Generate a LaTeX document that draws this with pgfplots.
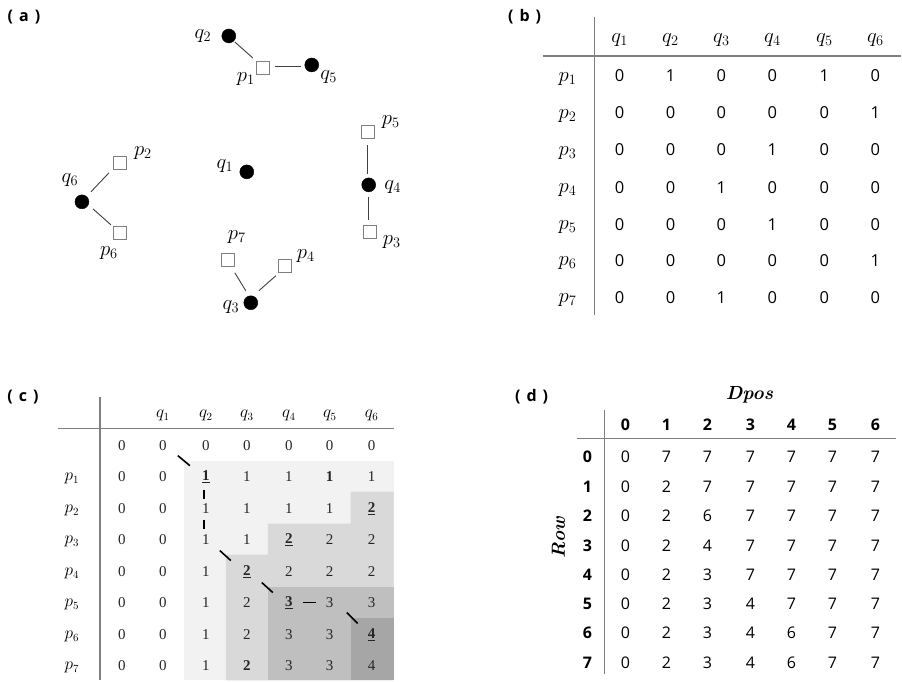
\documentclass[border=0pt]{standalone}
\usepackage{pgfplots}
\usepackage{pgfplotstable}
\pgfplotsset{compat=1.18}
\usepackage{fontspec}
\setsansfont{Open Sans}
\newfontfamily\cserif{Liberation Serif}
\definecolor{g1}{HTML}{F2F2F2}
\definecolor{g2}{HTML}{D9D9D9}
\definecolor{g3}{HTML}{BFBFBF}
\definecolor{g4}{HTML}{A6A6A6}
\definecolor{rulec}{HTML}{7F7F7F}
\definecolor{linec}{HTML}{404040}
\DeclareRobustCommand\U[1]{\underline{\textbf{#1}}}
\DeclareRobustCommand\B[1]{\textbf{#1}}
\pgfplotsset{
  lbl/.style={only marks, mark=none, nodes near coords, point meta=explicit symbolic,
    every node near coord/.append style={anchor=center, inner sep=0pt, text=black, #1}},
  seg/.style={draw=linec, line width=0.9pt, mark=none},
  rl/.style={draw=rulec, line width=1.4pt, mark=none},
  tb/.style={draw=black, line width=1.6pt, mark=none},
}
% panel (b) matrix
\pgfplotstableread{
y c1 c2 c3 c4 c5 c6
76  0 1 0 0 1 0
113 0 0 0 0 0 1
150 0 0 0 1 0 0
188 0 0 1 0 0 0
225 0 0 0 1 0 0
261 0 0 0 0 0 1
298 0 0 1 0 0 0
}\tabB
% panel (c) matrix
\pgfplotstableread{
y c0 c1 c2 c3 c4 c5 c6
446 0 0 0 0 0 0 0
477 0 0 \U{1} 1 1 \B{1} 1
509 0 0 1 1 1 1 \U{2}
540 0 0 1 1 \U{2} 2 2
572 0 0 1 \U{2} 2 2 2
603 0 0 1 2 \U{3} 3 3
635 0 0 1 2 3 3 \U{4}
666 0 0 1 \B{2} 3 3 4
}\tabC
% panel (d) matrix
\pgfplotstableread{
y c0 c1 c2 c3 c4 c5 c6
457 0 7 7 7 7 7 7
487 0 2 7 7 7 7 7
516 0 2 6 7 7 7 7
546 0 2 4 7 7 7 7
575 0 2 3 7 7 7 7
604 0 2 3 4 7 7 7
633 0 2 3 4 6 7 7
663 0 2 3 4 6 7 7
}\tabD
\begin{document}
\begin{tikzpicture}
\begin{axis}[scale only axis, width=902pt, height=681pt,
  xmin=0, xmax=902, ymin=0, ymax=681, y dir=reverse,
  hide axis, clip=false]
\addplot[draw=none, mark=none] coordinates {(0,0) (902,681)};
% ---------- panel labels
\addplot[lbl={font=\sffamily\bfseries\fontsize{16}{16}\selectfont}] table[meta=t] {
x y t
24 17 (\hspace{6pt}a\hspace{6pt})
525 17 (\hspace{6pt}b\hspace{6pt})
23 397 (\hspace{6pt}c\hspace{6pt})
532 397 (\hspace{6pt}d\hspace{6pt})
};
% ---------- panel (a)
\addplot[seg] coordinates {(235,42) (253,58)};
\addplot[seg] coordinates {(275,67) (301,67)};
\addplot[seg] coordinates {(368,145) (368,174)};
\addplot[seg] coordinates {(369,197) (369,220)};
\addplot[seg] coordinates {(91,192) (109,173)};
\addplot[seg] coordinates {(93,209) (111,225)};
\addplot[seg] coordinates {(235,273) (246,291)};
\addplot[seg] coordinates {(259,291) (276,276)};
\addplot[only marks, mark=*, mark size=7pt, mark options={fill=black, draw=black}] table {
x y
229 36
312 65
369 185
82 202
247 172
251 303
};
\addplot[only marks, mark=square*, mark size=6.5pt, mark options={fill=white, draw=rulec, line width=1.2pt}] table {
x y
263 68
368 132
370 232
120 163
120 233
228 260
285 266
};
\addplot[lbl={font=\fontsize{21}{21}\selectfont}] table[meta=t] {
x y t
203 36 $q_2$
246 79 $p_1$
329 77 $q_5$
391 122 $p_5$
393 187 $q_4$
392 242 $p_3$
143 153 $p_2$
70 180 $q_6$
109 253 $p_6$
225 166 $q_1$
237 237 $p_7$
306 256 $p_4$
231 307 $q_3$
};
% ---------- panel (b)
\addplot[rl] coordinates {(595,17) (595,315)};
\addplot[rl] coordinates {(543,56) (902,56)};
\addplot[lbl={font=\fontsize{22}{22}\selectfont}] table[meta=t] {
x y t
620 40 $q_1$
671 40 $q_2$
722 40 $q_3$
773 40 $q_4$
825 40 $q_5$
876 40 $q_6$
568 79 $p_1$
568 116 $p_2$
568 153 $p_3$
568 190 $p_4$
568 227 $p_5$
568 263 $p_6$
568 300 $p_7$
};
\addplot[lbl={font=\sffamily\fontsize{16.5}{16.5}\selectfont}] table[x expr=620, y=y, meta=c1] {\tabB};
\addplot[lbl={font=\sffamily\fontsize{16.5}{16.5}\selectfont}] table[x expr=671, y=y, meta=c2] {\tabB};
\addplot[lbl={font=\sffamily\fontsize{16.5}{16.5}\selectfont}] table[x expr=722, y=y, meta=c3] {\tabB};
\addplot[lbl={font=\sffamily\fontsize{16.5}{16.5}\selectfont}] table[x expr=773, y=y, meta=c4] {\tabB};
\addplot[lbl={font=\sffamily\fontsize{16.5}{16.5}\selectfont}] table[x expr=825, y=y, meta=c5] {\tabB};
\addplot[lbl={font=\sffamily\fontsize{16.5}{16.5}\selectfont}] table[x expr=876, y=y, meta=c6] {\tabB};
% ---------- panel (c)
\addplot[fill=g1, draw=none, mark=none] coordinates {(184,461) (394,461) (394,681) (184,681)};
\addplot[fill=g2, draw=none, mark=none] coordinates {(351,492) (394,492) (394,681) (226,681) (226,555) (268,555) (268,524) (351,524)};
\addplot[fill=g3, draw=none, mark=none] coordinates {(268,587) (394,587) (394,681) (268,681)};
\addplot[fill=g4, draw=none, mark=none] coordinates {(351,618) (394,618) (394,681) (351,681)};
\addplot[rl] coordinates {(100,397) (100,681)};
\addplot[rl] coordinates {(58,429) (394,429)};
\addplot[tb] coordinates {(178,456) (190,466)};
\addplot[tb] coordinates {(204,490) (204,499)};
\addplot[tb] coordinates {(204,520) (204,529)};
\addplot[tb] coordinates {(220,551) (231,561)};
\addplot[tb] coordinates {(262,583) (273,593)};
\addplot[tb] coordinates {(303,603) (316,603)};
\addplot[tb] coordinates {(347,613) (358,624)};
\addplot[lbl={font=\fontsize{16}{16}\selectfont}] table[meta=t] {
x y t
163 416 $q_1$
206 416 $q_2$
247 416 $q_3$
289 416 $q_4$
330 416 $q_5$
372 416 $q_6$
72 479 $p_1$
72 511 $p_2$
72 542 $p_3$
72 574 $p_4$
72 605 $p_5$
72 637 $p_6$
72 668 $p_7$
};
\addplot[lbl={font=\cserif\fontsize{15}{15}\selectfont, text=black!85}] table[x expr=122, y=y, meta=c0] {\tabC};
\addplot[lbl={font=\cserif\fontsize{15}{15}\selectfont, text=black!85}] table[x expr=163, y=y, meta=c1] {\tabC};
\addplot[lbl={font=\cserif\fontsize{15}{15}\selectfont, text=black!85}] table[x expr=206, y=y, meta=c2] {\tabC};
\addplot[lbl={font=\cserif\fontsize{15}{15}\selectfont, text=black!85}] table[x expr=247, y=y, meta=c3] {\tabC};
\addplot[lbl={font=\cserif\fontsize{15}{15}\selectfont, text=black!85}] table[x expr=289, y=y, meta=c4] {\tabC};
\addplot[lbl={font=\cserif\fontsize{15}{15}\selectfont, text=black!85}] table[x expr=330, y=y, meta=c5] {\tabC};
\addplot[lbl={font=\cserif\fontsize{15}{15}\selectfont, text=black!85}] table[x expr=372, y=y, meta=c6] {\tabC};
% ---------- panel (d)
\addplot[rl] coordinates {(605,410) (605,675)};
\addplot[rl] coordinates {(577,439) (897,439)};
\addplot[lbl={font=\bfseries\itshape\fontsize{19}{19}\selectfont}] table[meta=t] {
x y t
750 395 Dpos
};
\addplot[lbl={font=\bfseries\itshape\fontsize{19}{19}\selectfont, rotate=90}] table[meta=t] {
x y t
559 538 Row
};
\addplot[lbl={font=\sffamily\bfseries\fontsize{16}{16}\selectfont}] table[meta=t] {
x y t
626 425 0
667 425 1
708 425 2
751 425 3
792 425 4
833 425 5
876 425 6
588 457 0
588 487 1
588 516 2
588 546 3
588 575 4
588 604 5
588 633 6
588 663 7
};
\addplot[lbl={font=\sffamily\fontsize{16}{16}\selectfont}] table[x expr=626, y=y, meta=c0] {\tabD};
\addplot[lbl={font=\sffamily\fontsize{16}{16}\selectfont}] table[x expr=667, y=y, meta=c1] {\tabD};
\addplot[lbl={font=\sffamily\fontsize{16}{16}\selectfont}] table[x expr=708, y=y, meta=c2] {\tabD};
\addplot[lbl={font=\sffamily\fontsize{16}{16}\selectfont}] table[x expr=751, y=y, meta=c3] {\tabD};
\addplot[lbl={font=\sffamily\fontsize{16}{16}\selectfont}] table[x expr=792, y=y, meta=c4] {\tabD};
\addplot[lbl={font=\sffamily\fontsize{16}{16}\selectfont}] table[x expr=833, y=y, meta=c5] {\tabD};
\addplot[lbl={font=\sffamily\fontsize{16}{16}\selectfont}] table[x expr=876, y=y, meta=c6] {\tabD};
\end{axis}
\end{tikzpicture}
\end{document}
